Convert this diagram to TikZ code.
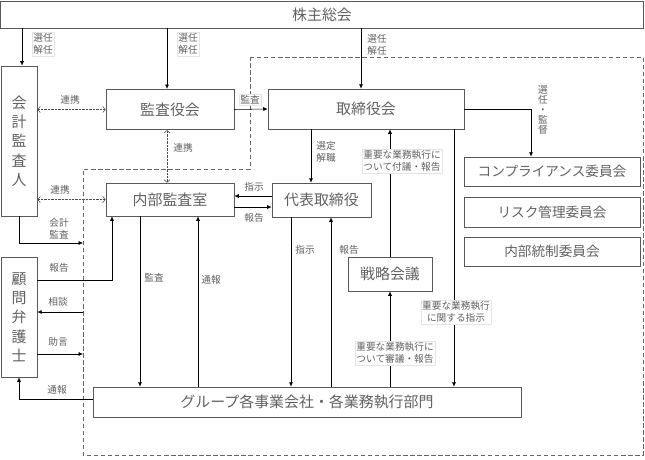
\documentclass[tikz,border=0pt]{standalone}
\usepackage{fontspec}
\setmainfont{Noto Sans CJK JP}
\usetikzlibrary{arrows.meta}
\begin{document}
\begin{tikzpicture}[x=0.04cm, y=-0.04cm, >={Latex[length=5pt,width=4.5pt]}, line width=0.6pt,
    box/.style={draw=black!65, line width=0.8pt, inner sep=0pt, text=black!62, font=\fontsize{17}{19}\selectfont},
    vbox/.style={box, align=center, font=\fontsize{17}{22}\selectfont},
    iin/.style={box, minimum width=7.04cm, font=\fontsize{15.5}{18}\selectfont},
    tag/.style={font=\fontsize{11}{13.5}\selectfont, text=black!62, inner sep=1.5pt, align=center, fill=white},
    tagbox/.style={tag, draw=black!10, line width=0.4pt},
    link/.style={densely dotted, draw=black!70, {Straight Barb[length=3pt,width=7pt]}-{Straight Barb[length=3pt,width=7pt]}}]
    
    \useasboundingbox (0,0) rectangle (645,459);
    
    % 点線の範囲
    \draw[dash pattern=on 5pt off 3pt, black!60, line width=0.8pt] (250,57)--(643,57)--(643,455)--(83,455)--(83,169)--(250,169)--cycle;
    
    \node[box, minimum width=25.72cm, minimum height=1.08cm] (soukai) at (322,14.5) {株主総会};
    \node[vbox, minimum width=1.44cm, minimum height=6cm] (kaikei) at (19,141) {会\\計\\監\\査\\人};
    \node[vbox, minimum width=1.44cm, minimum height=4.8cm] (komon) at (19,317) {顧\\問\\弁\\護\\士};
    \node[box, minimum width=5.12cm, minimum height=1.62cm] (kansa) at (170,109.5) {監査役会};
    \node[box, minimum width=7.84cm, minimum height=1.6cm] (torishimari) at (366,109) {取締役会};
    \node[box, minimum width=5.12cm, minimum height=1.32cm] (naibu) at (170,199.5) {内部監査室};
    \node[box, minimum width=3.96cm, minimum height=1.36cm] (daihyo) at (321.5,200) {代表取締役};
    \node[box, minimum width=3.36cm, minimum height=1.36cm] (senryaku) at (390,274) {戦略会議};
    \node[box, minimum width=17.12cm, minimum height=1.2cm] (group) at (307,402) {グループ各事業会社・各業務執行部門};
    \node[iin, minimum height=1.16cm] (comp) at (552,171.5) {コンプライアンス委員会};
    \node[iin, minimum height=1.2cm] (risk) at (552,212) {リスク管理委員会};
    \node[iin, minimum height=1.16cm] (tousei) at (552,251.5) {内部統制委員会};
    
    % 列と行
    \coordinate (c-kai) at (22,0);
    \coordinate (c-kan) at (167,0);
    \coordinate (c-tori) at (361,0);
    \coordinate (c-iin) at (531,0);
    \coordinate (c-sentei) at (311,0);
    \coordinate (c-shiji) at (454,0);
    \coordinate (c-kansa) at (140,0);
    \coordinate (c-tsuho) at (198,0);
    \coordinate (c-dshiji) at (291,0);
    \coordinate (c-dhoko) at (331,0);
    \coordinate (c-hoko) at (112,0);
    \coordinate (bnd) at (83,0);
    \coordinate (r-shiji) at (0,196);
    \coordinate (r-hoko) at (0,207);
    \coordinate (r-kaikei) at (0,243);
    \coordinate (r-houkoku) at (0,280);
    \coordinate (r-soudan) at (0,312);
    \coordinate (r-jogen) at (0,354);
    \coordinate (r-tsuho) at (0,399);
    
    \draw[->] (c-kai |- soukai.south)--(c-kai |- kaikei.north);
    \draw[->] (c-kan |- soukai.south)--(c-kan |- kansa.north);
    \draw[->] (c-tori |- soukai.south)--(c-tori |- torishimari.north);
    \draw[->] (kansa.east)--(torishimari.west);
    \draw[->] (torishimari.east) -| (c-iin |- comp.north);
    \draw[->] (c-sentei |- torishimari.south)--(c-sentei |- daihyo.north);
    \draw[->] (senryaku.north)--(senryaku.north |- torishimari.south);
    \draw[->] (c-shiji |- torishimari.south)--(c-shiji |- group.north);
    \draw[->] (senryaku.south |- group.north)--(senryaku.south);
    \draw[->] (daihyo.west |- r-shiji)--(naibu.east |- r-shiji);
    \draw[->] (naibu.east |- r-hoko)--(daihyo.west |- r-hoko);
    \draw[->] (c-kansa |- naibu.south)--(c-kansa |- group.north);
    \draw[->] (c-tsuho |- group.north)--(c-tsuho |- naibu.south);
    \draw[->] (c-dshiji |- daihyo.south)--(c-dshiji |- group.north);
    \draw[->] (c-dhoko |- group.north)--(c-dhoko |- daihyo.south);
    \draw[->] (kaikei.south) |- (bnd |- r-kaikei);
    \draw[->] (komon.east |- r-houkoku) -| (c-hoko |- naibu.south);
    \draw[->] (bnd |- r-soudan)--(komon.east |- r-soudan);
    \draw[->] (komon.east |- r-jogen)--(bnd |- r-jogen);
    \draw[->] (group.west |- r-tsuho) -| (komon.south);
    
    \draw[link] (kaikei.east |- kansa)--(kansa.west);
    \draw[link] (kaikei.east |- naibu)--(naibu.west);
    \draw[link] (c-kan |- kansa.south)--(c-kan |- naibu.north);
    
    % ラベル
    \node[tagbox] (l-senin1) at (43,44) {選任\\解任};
    \node[tagbox] (l-senin2) at (188,44) {選任\\解任};
    \node[tag] (l-senin3) at (377,45) {選任\\解任};
    \node[tagbox] (l-kansa1) at (250,100) {監査};
    \node[tag, font=\fontsize{11}{11.5}\selectfont] (l-kantoku) at (543,110) {選\\任\\・\\監\\督};
    \node[tag] (l-sentei) at (326,152) {選定\\解職};
    \node[tagbox] (l-fugi) at (402,161) {重要な業務執行に\\ついて付議・報告};
    \node[tag, fill=none] (l-shiji1) at (254,187) {指示};
    \node[tag, fill=none] (l-hoko1) at (254,218) {報告};
    \node[tag] (l-renkei1) at (70,100) {連携};
    \node[tag] (l-renkei2) at (183,148) {連携};
    \node[tag] (l-renkei3) at (60,190) {連携};
    \node[tag, fill=none] (l-kaikei) at (59,229) {会計\\監査};
    \node[tag, fill=none] (l-hoko2) at (59,268) {報告};
    \node[tag, fill=none] (l-soudan) at (58,302) {相談};
    \node[tag, fill=none] (l-jogen) at (58,342) {助言};
    \node[tag, fill=none] (l-tsuho1) at (57,390) {通報};
    \node[tag] (l-kansa2) at (154,278) {監査};
    \node[tag] (l-tsuho2) at (211,280) {通報};
    \node[tag] (l-shiji2) at (305,250) {指示};
    \node[tag] (l-hoko3) at (349,250) {報告};
    \node[tagbox] (l-jyuyo) at (456,312) {重要な業務執行\\に関する指示};
    \node[tagbox] (l-shingi) at (395,353) {重要な業務執行に\\ついて審議・報告};
    
\end{tikzpicture}
\end{document}
